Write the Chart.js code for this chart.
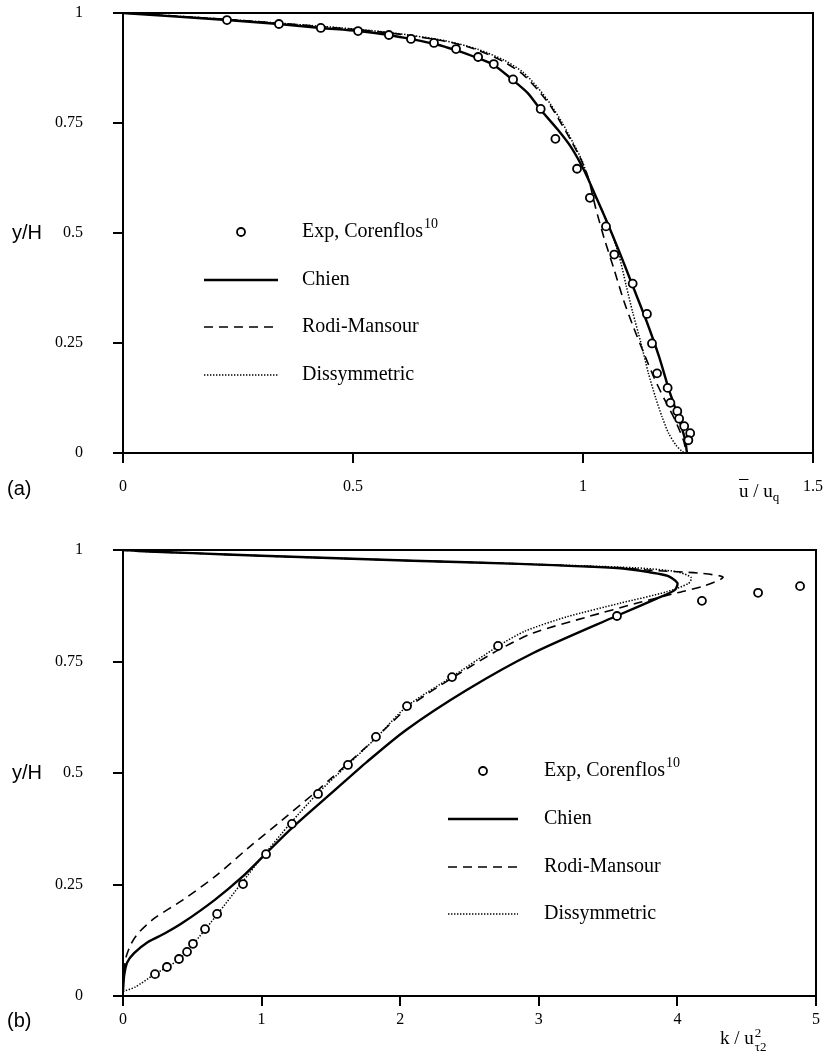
<!DOCTYPE html>
<html>
<head>
<meta charset="utf-8">
<title>Channel flow profiles</title>
<script src="https://cdn.jsdelivr.net/npm/chart.js@4.4.1/dist/chart.umd.min.js"></script>
<style>
  html, body { margin: 0; padding: 0; background: #fff; }
  #page { position: relative; width: 824px; height: 1059px; overflow: hidden; }
  .panel { position: absolute; left: 0; }
  .side { position: absolute; font-family: 'Liberation Sans', Arial, sans-serif; font-size: 20px; line-height: 20px; color: #000; }
  .axt { position: absolute; font-family: 'Liberation Serif', 'Times New Roman', serif; font-size: 19px; line-height: 19px; color: #000; white-space: nowrap; }
  .axt sub { font-size: 13px; vertical-align: -4px; line-height: 0; }
  .stack { display: inline-block; vertical-align: middle; font-size: 13px; line-height: 14px; margin-left: 1px; }
  .stack span { display: block; }
</style>
</head>
<body>
<div id="page">
  <div class="panel" style="top:0;width:824px;height:530px"><canvas id="chartA" width="824" height="530"></canvas></div>
  <div class="panel" style="top:530px;width:824px;height:529px"><canvas id="chartB" width="824" height="529"></canvas></div>

  <div class="side" style="left:12px;top:222px">y/H</div>
  <div class="side" style="left:7px;top:478px">(a)</div>
  <div class="side" style="left:12px;top:762px">y/H</div>
  <div class="side" style="left:7px;top:1010px">(b)</div>

  <div class="axt" style="left:739px;top:481px"><span style="text-decoration:overline">u</span> / u<sub>q</sub></div>
  <div class="axt" style="left:720px;top:1026px">k / u<span class="stack"><span>2</span><span>&tau;2</span></span></div>
</div>

<script>
// ---- legend text ----
const seriesLabels = ['Exp, Corenflos', 'Chien', 'Rodi-Mansour', 'Dissymmetric'];
const expRefNote = '10';

// ---- axis ticks ----
const yTicks = [0, 0.25, 0.5, 0.75, 1];
const xTicksA = [0, 0.5, 1, 1.5];
const xTicksB = [0, 1, 2, 3, 4, 5];

// ---- (a) mean velocity u/uq vs y/H ----
const expA_u = [0.226, 0.339, 0.430, 0.511, 0.578, 0.626, 0.676, 0.724, 0.772, 0.806, 0.848, 0.908, 0.940, 0.987,
                1.015, 1.050, 1.068, 1.108, 1.139, 1.150, 1.161, 1.184, 1.190, 1.205, 1.209, 1.220, 1.233, 1.229];
const expA_y = [0.984, 0.975, 0.966, 0.959, 0.950, 0.941, 0.932, 0.918, 0.900, 0.884, 0.849, 0.782, 0.714, 0.646,
                0.580, 0.515, 0.451, 0.385, 0.316, 0.249, 0.181, 0.148, 0.114, 0.095, 0.078, 0.061, 0.045, 0.029];

const chienA_u = [0, 0.10, 0.226, 0.339, 0.430, 0.511, 0.578, 0.630, 0.680, 0.722, 0.765, 0.806, 0.847, 0.880,
                  0.908, 0.945, 0.974, 1.002, 1.025, 1.048, 1.078, 1.108, 1.138, 1.165, 1.188, 1.208, 1.222, 1.226];
const chienA_y = [1, 0.993, 0.984, 0.975, 0.966, 0.959, 0.950, 0.940, 0.929, 0.916, 0.900, 0.882, 0.848, 0.818,
                  0.780, 0.735, 0.695, 0.643, 0.590, 0.535, 0.460, 0.380, 0.300, 0.220, 0.140, 0.080, 0.030, 0];

const rodiA_u = [0, 0.10, 0.30, 0.50, 0.60, 0.70, 0.765, 0.828, 0.870, 0.902, 0.930, 0.952, 0.975, 0.996,
                 1.011, 1.028, 1.046, 1.068, 1.088, 1.110, 1.133, 1.155, 1.178, 1.200, 1.218, 1.225];
const rodiA_y = [1, 0.994, 0.980, 0.963, 0.952, 0.936, 0.918, 0.889, 0.860, 0.825, 0.788, 0.750, 0.708, 0.666,
                 0.627, 0.555, 0.488, 0.416, 0.348, 0.285, 0.225, 0.170, 0.120, 0.075, 0.030, 0];

const dissA_u = [0, 0.10, 0.30, 0.50, 0.60, 0.70, 0.770, 0.830, 0.870, 0.902, 0.930, 0.955, 0.978, 0.998,
                 1.020, 1.042, 1.062, 1.078, 1.094, 1.108, 1.126, 1.142, 1.158, 1.172, 1.186, 1.202, 1.215, 1.222];
const dissA_y = [1, 0.994, 0.980, 0.964, 0.953, 0.937, 0.918, 0.892, 0.865, 0.830, 0.792, 0.750, 0.706, 0.664,
                 0.600, 0.550, 0.500, 0.450, 0.380, 0.320, 0.250, 0.182, 0.125, 0.082, 0.045, 0.018, 0.004, 0];

// ---- (b) turbulent kinetic energy k/u_tau2^2 vs y/H ----
const expB_k = [0.231, 0.317, 0.404, 0.462, 0.505, 0.592, 0.679, 0.866, 1.032, 1.219, 1.407, 1.623, 1.825, 2.049,
                2.374, 2.706, 3.564, 4.177, 4.582, 4.885];
const expB_y = [0.049, 0.065, 0.083, 0.099, 0.117, 0.150, 0.184, 0.251, 0.318, 0.386, 0.453, 0.518, 0.581, 0.650,
                0.715, 0.785, 0.852, 0.886, 0.904, 0.919];

const chienB_k = [0, 0.008, 0.03, 0.08, 0.18, 0.30, 0.43, 0.66, 0.86, 1.02, 1.22, 1.53, 1.76, 2.04, 2.48, 2.96,
                  3.56, 3.85, 3.98, 4.00, 3.93, 3.80, 3.59, 2.86, 2.09, 1.00, 0.50, 0.15, 0];
const chienB_y = [0.01, 0.045, 0.075, 0.096, 0.121, 0.140, 0.164, 0.215, 0.267, 0.316, 0.377, 0.462, 0.525, 0.596,
                  0.686, 0.769, 0.852, 0.891, 0.910, 0.926, 0.942, 0.950, 0.959, 0.969, 0.976, 0.987, 0.993, 0.997, 1];

const rodiB_k = [0, 0.005, 0.02, 0.06, 0.11, 0.23, 0.43, 0.66, 0.90, 1.15, 1.40, 1.76, 2.07, 2.40, 2.71, 2.96,
                 3.35, 3.71, 4.00, 4.20, 4.33, 4.16, 3.78, 3.59, 2.86, 2.09, 1.00, 0.50, 0.15, 0];
const rodiB_y = [0.02, 0.045, 0.085, 0.118, 0.141, 0.175, 0.215, 0.267, 0.331, 0.395, 0.460, 0.560, 0.650, 0.718,
                 0.776, 0.814, 0.850, 0.881, 0.904, 0.920, 0.939, 0.948, 0.955, 0.960, 0.969, 0.976, 0.987, 0.993, 0.997, 1];

const dissB_k = [0, 0.087, 0.22, 0.40, 0.50, 0.68, 0.86, 1.00, 1.21, 1.40, 1.62, 1.83, 2.05, 2.37, 2.71, 2.90,
                 3.20, 3.59, 3.92, 4.08, 4.10, 4.00, 3.70, 2.86, 2.09, 1.00, 0.50, 0.15, 0];
const dissB_y = [0.01, 0.02, 0.047, 0.081, 0.114, 0.183, 0.255, 0.310, 0.388, 0.453, 0.518, 0.580, 0.650, 0.715,
                 0.785, 0.818, 0.850, 0.881, 0.906, 0.925, 0.938, 0.951, 0.960, 0.969, 0.976, 0.987, 0.993, 0.997, 1];

const zip = (xs, ys) => xs.map((x, i) => ({ x: x, y: ys[i] }));

const serif = "'Liberation Serif', 'Times New Roman', serif";

function buildDatasets(exp, chien, rodi, diss) {
    const line = {
        showLine: true, pointRadius: 0, pointHoverRadius: 0, fill: false,
        tension: 0.25, borderColor: '#000', backgroundColor: '#000'
    };
    return [
        {
            label: seriesLabels[0], data: exp, showLine: false,
            pointRadius: 4, pointBorderWidth: 1.8, pointBorderColor: '#000', pointBackgroundColor: '#fff'
        },
        Object.assign({}, line, { label: seriesLabels[1], data: chien, borderWidth: 2.4 }),
        Object.assign({}, line, { label: seriesLabels[2], data: rodi, borderWidth: 1.6, borderDash: [9, 6] }),
        Object.assign({}, line, { label: seriesLabels[3], data: diss, borderWidth: 1.5, borderDash: [1.4, 1.6] })
    ];
}

// closes the box on top and right
const framePlugin = {
    id: 'frame',
    beforeDatasetsDraw(chart) {
        const { ctx, chartArea: a } = chart;
        ctx.save();
        ctx.strokeStyle = '#000';
        ctx.lineWidth = 2;
        ctx.beginPath();
        ctx.moveTo(a.left, a.top);
        ctx.lineTo(a.right, a.top);
        ctx.lineTo(a.right, a.bottom);
        ctx.stroke();
        ctx.restore();
    }
};

// legend drawn inside the plot, using each dataset's own style
const inlineLegend = {
    id: 'inlineLegend',
    afterDatasetsDraw(chart, args, opts) {
        const ctx = chart.ctx;
        ctx.save();
        ctx.textBaseline = 'middle';
        ctx.fillStyle = '#000';
        chart.data.datasets.forEach((ds, i) => {
            const y = opts.rows[i];
            if (ds.showLine === false) {
                ctx.beginPath();
                ctx.arc((opts.lineX[0] + opts.lineX[1]) / 2, y, ds.pointRadius, 0, Math.PI * 2);
                ctx.fillStyle = ds.pointBackgroundColor;
                ctx.fill();
                ctx.lineWidth = ds.pointBorderWidth;
                ctx.strokeStyle = ds.pointBorderColor;
                ctx.stroke();
            } else {
                ctx.beginPath();
                ctx.setLineDash(ds.borderDash || []);
                ctx.lineWidth = ds.borderWidth;
                ctx.strokeStyle = ds.borderColor;
                ctx.moveTo(opts.lineX[0], y);
                ctx.lineTo(opts.lineX[1], y);
                ctx.stroke();
                ctx.setLineDash([]);
            }
            ctx.fillStyle = '#000';
            ctx.font = '20px ' + serif;
            ctx.fillText(ds.label, opts.textX, y);
            if (i === 0) {
                const w = ctx.measureText(ds.label).width;
                ctx.font = '14px ' + serif;
                ctx.fillText(expRefNote, opts.textX + w + 1, y - 8);
            }
        });
        ctx.restore();
    }
};

function axisOptions(min, max, ticks, fitSize, horizontal, pad) {
    return {
        type: 'linear', min: min, max: max,
        afterBuildTicks: (scale) => { scale.ticks = ticks.map(v => ({ value: v })); },
        afterFit: (scale) => {
            if (horizontal) scale.height = fitSize; else scale.width = fitSize;
            // the plot box is placed by layout.padding alone
            scale.paddingTop = 0;
            scale.paddingBottom = 0;
            scale.paddingLeft = 0;
            scale.paddingRight = 0;
        },
        ticks: {
            color: '#000', padding: pad,
            font: { family: serif, size: 16 },
            callback: (v) => String(v)
        },
        grid: { drawOnChartArea: false, drawTicks: true, tickLength: 10, color: '#000', lineWidth: 2 },
        border: { display: true, color: '#000', width: 2 }
    };
}

function makeChart(id, datasets, cfg) {
    return new Chart(document.getElementById(id), {
        type: 'scatter',
        data: { datasets: datasets },
        plugins: [framePlugin, inlineLegend],
        options: {
            responsive: false,
            animation: false,
            layout: { padding: { left: 0, top: cfg.top, right: cfg.right, bottom: 0 } },
            scales: {
                x: axisOptions(cfg.xMin, cfg.xMax, cfg.xTicks, cfg.xHeight, true, cfg.xPad),
                y: axisOptions(0, 1, yTicks, 123, false, 30)
            },
            plugins: {
                legend: { display: false },
                tooltip: { enabled: false },
                inlineLegend: cfg.legend
            }
        }
    });
}

makeChart('chartA',
    buildDatasets(zip(expA_u, expA_y), zip(chienA_u, chienA_y), zip(rodiA_u, rodiA_y), zip(dissA_u, dissA_y)),
    {
        top: 13, right: 11, xMin: 0, xMax: 1.5, xTicks: xTicksA, xHeight: 77, xPad: 14,
        legend: { rows: [232, 280, 327, 375], lineX: [204, 278], textX: 302 }
    });

makeChart('chartB',
    buildDatasets(zip(expB_k, expB_y), zip(chienB_k, chienB_y), zip(rodiB_k, rodiB_y), zip(dissB_k, dissB_y)),
    {
        top: 20, right: 8, xMin: 0, xMax: 5, xTicks: xTicksB, xHeight: 63, xPad: 4,
        legend: { rows: [241, 289, 337, 384], lineX: [448, 518], textX: 544 }
    });
</script>
</body>
</html>
